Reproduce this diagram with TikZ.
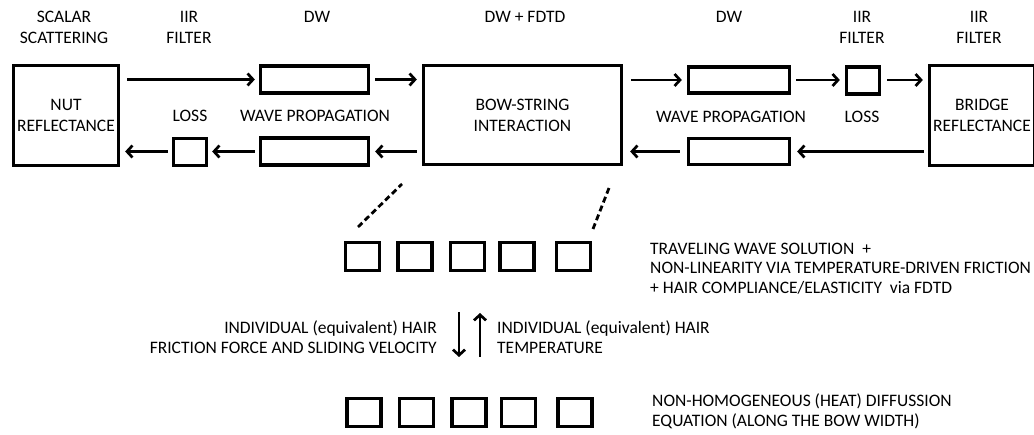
\documentclass[tikz,border=0pt]{standalone}
\usepackage{fontspec}
\setmainfont{Carlito}
\usetikzlibrary{arrows.meta}
\begin{document}
\begin{tikzpicture}[x=1pt,y=-1pt,
  box/.style={draw,line width=3.3pt,inner sep=0pt,align=center,font=\lbl},
  lbl/.style={inner sep=0pt,align=center,font=\lbl},
  conn/.style={line width=2.7pt,-{Straight Barb[length=5.5pt,width=12pt]}},
  zoomline/.style={line width=2.8pt,dash pattern=on 6pt off 3.5pt},
]
\newcommand{\lbl}{\fontsize{17.5}{21}\selectfont}
\useasboundingbox (0,0) rectangle (1034,435);
% main row
\node[box,minimum width=105pt,minimum height=100pt] (nut) at (66,115.5) {NUT\\REFLECTANCE};
\node[box,minimum width=108pt,minimum height=27pt] (dw1) at (314.5,79.5) {};
\node[box,minimum width=108pt,minimum height=27pt] (dw2) at (314.5,151.5) {};
\node[box,minimum width=33pt,minimum height=27pt] (loss1) at (190,152) {};
\node[box,minimum width=198pt,minimum height=99pt] (bow) at (522.5,115) {BOW-STRING\\INTERACTION};
\node[box,minimum width=101pt,minimum height=26pt] (dw3) at (739,80) {};
\node[box,minimum width=101pt,minimum height=26pt] (dw4) at (739,151.5) {};
\node[box,minimum width=33pt,minimum height=27pt] (loss2) at (863,80.5) {};
\node[box,minimum width=105pt,minimum height=100pt] (bridge) at (982,115.5) {BRIDGE\\REFLECTANCE};
% top labels
\node[lbl] (t1) at (64,27.5) {SCALAR\\SCATTERING};
\node[lbl] (t2) at (189,27.5) {IIR\\FILTER};
\node[lbl] (t3) at (317,17) {DW};
\node[lbl] (t4) at (525,17) {DW + FDTD};
\node[lbl] (t5) at (729,17) {DW};
\node[lbl] (t6) at (862,27.5) {IIR\\FILTER};
\node[lbl] (t7) at (979,27.5) {IIR\\FILTER};
% middle labels
\node[lbl] (m1) at (190,116) {LOSS};
\node[lbl] (m2) at (315,116) {WAVE PROPAGATION};
\node[lbl] (m3) at (731,117) {WAVE PROPAGATION};
\node[lbl] (m4) at (862,117) {LOSS};
% arrows top row
\draw[conn,shorten <=7pt,shorten >=4pt] (nut.east |- dw1.west) -- (dw1.west);
\draw[conn,shorten <=5pt,shorten >=5pt] (dw1.east) -- (bow.west |- dw1.east);
\draw[conn,shorten <=8pt,shorten >=5pt] (bow.east |- dw3.west) -- (dw3.west);
\draw[conn,shorten <=5pt,shorten >=5pt] (dw3.east) -- (loss2.west |- dw3.east);
\draw[conn,shorten <=6pt,shorten >=5pt] (loss2.east |- dw3.east) -- (bridge.west |- dw3.east);
% arrows bottom row
\draw[conn,shorten <=4pt,shorten >=6pt] (bridge.west |- dw4.east) -- (dw4.east);
\draw[conn,shorten <=7pt,shorten >=7pt] (dw4.west) -- (bow.east |- dw4.west);
\draw[conn,shorten <=5pt,shorten >=5pt] (bow.west |- dw2.east) -- (dw2.east);
\draw[conn,shorten <=4pt,shorten >=4pt] (dw2.west) -- (loss1.east |- dw2.west);
\draw[conn,shorten <=4pt,shorten >=5pt] (loss1.west |- dw2.west) -- (nut.east |- dw2.west);
% hair cells
\foreach \i/\x in {1/362.5,2/415,3/467.5,4/517,5/573.5}{
  \node[box,minimum width=34pt,minimum height=28pt] (a\i) at (\x,256.5) {};
  \node[box,minimum width=34pt,minimum height=28pt] (b\i) at (\x+1.5,412.5) {};
}
% zoom lines
\coordinate (zl1) at (358,227);
\coordinate (zl2) at (402,184);
\coordinate (zr1) at (593,229);
\coordinate (zr2) at (609,188);
\draw[zoomline] (zl1) -- (zl2);
\draw[zoomline] (zr1) -- (zr2);
% texts right
\node[lbl,anchor=west,align=left,font=\fontsize{17.5}{19.5}\selectfont] (d1) at (650,268.5) {TRAVELING WAVE SOLUTION~~+\\NON-LINEARITY VIA TEMPERATURE-DRIVEN FRICTION\\+ HAIR COMPLIANCE/ELASTICITY~~via FDTD};
\node[lbl,anchor=west,align=left,font=\fontsize{17.5}{20}\selectfont] (d2) at (652,411) {NON-HOMOGENEOUS (HEAT) DIFFUSSION\\EQUATION (ALONG THE BOW WIDTH)};
% vertical arrows
\coordinate (vd1) at (459,312);
\coordinate (vd2) at (459,357);
\coordinate (vu1) at (480,357);
\coordinate (vu2) at (480,313);
\draw[conn] (vd1) -- (vd2);
\draw[conn] (vu1) -- (vu2);
\node[lbl,anchor=east,align=right,font=\fontsize{17.5}{20}\selectfont] (e1) at (437,337) {INDIVIDUAL (equivalent) HAIR\\FRICTION FORCE AND SLIDING VELOCITY};
\node[lbl,anchor=west,align=left,font=\fontsize{17.5}{20}\selectfont] (e2) at (497,337) {INDIVIDUAL (equivalent) HAIR\\TEMPERATURE};
\end{tikzpicture}
\end{document}
